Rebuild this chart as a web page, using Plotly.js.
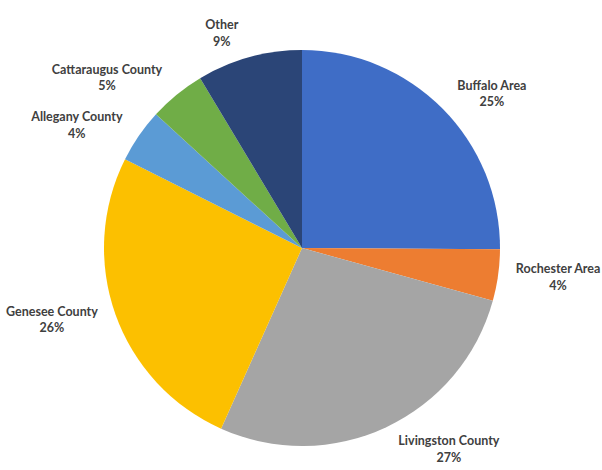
<!DOCTYPE html>
<html><head><meta charset="utf-8">
<script src="https://cdn.plot.ly/plotly-3.0.1.min.js"></script>
<style>html,body{margin:0;padding:0;background:#fff}</style>
</head><body>
<div id="chart" style="width:602px;height:470px"></div>
<script>
const categories = ["Buffalo Area","Rochester Area","Livingston County","Genesee County","Allegany County","Cattaraugus County","Other"];
const shares = [25.1,4.2,27.4,25.7,4.4,4.6,8.6];
const colors = ["#3f6dc6","#ed7d31","#a5a5a5","#fcc000","#5b9bd5","#70ad47","#2b4577"];

const cx = 302, cy = 248, R = 198, RL = 208, W = 602, H = 470;
function dom(r){ return {x: [(cx-r)/W, (cx+r)/W], y: [1-(cy+r)/H, 1-(cy-r)/H]}; }

const labelTrace = {
  type: "pie",
  labels: categories,
  values: shares,
  sort: false,
  direction: "clockwise",
  rotation: 0,
  marker: {colors: categories.map(() => "rgba(0,0,0,0)"), line: {width: 0}},
  textposition: "outside",
  texttemplate: "<b>%{label}</b><br><b>%{percent:.0%}</b>",
  textfont: {family: "Lato, 'Open Sans', sans-serif", size: 12.5, color: "#404040"},
  automargin: false,
  domain: dom(RL),
  hoverinfo: "skip"
};
const pieTrace = {
  type: "pie",
  labels: categories,
  values: shares,
  sort: false,
  direction: "clockwise",
  rotation: 0,
  marker: {colors: colors, line: {color: "#ffffff", width: 0}},
  textinfo: "none",
  automargin: false,
  domain: dom(R),
  hoverinfo: "label+percent"
};
Plotly.newPlot("chart", [labelTrace, pieTrace], {
  width: W, height: H,
  margin: {l:0, r:0, t:0, b:0},
  showlegend: false,
  paper_bgcolor: "#ffffff"
}, {displayModeBar: false, staticPlot: true});
</script>
</body></html>
